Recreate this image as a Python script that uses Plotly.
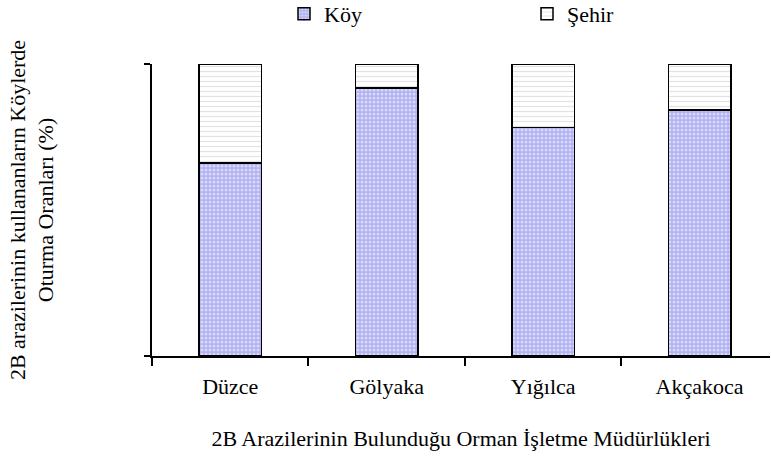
import plotly.graph_objects as go

categories = ["Düzce", "Gölyaka", "Yığılca", "Akçakoca"]
koy = [66.1, 91.8, 78.2, 84.2]
sehir = [33.9, 8.2, 21.8, 15.8]
boundaries = [-0.5, 0.5, 1.5, 2.5]
y_ticks = [0, 100]

x_pos = list(range(len(categories)))
serif = "Liberation Serif"

fig = go.Figure()

fig.add_trace(go.Bar(
    x=x_pos, y=koy, name="Köy", width=0.4,
    marker=dict(
        color="#B0B0F2",
        line=dict(color="black", width=1.5),
        pattern=dict(shape=".", fgcolor="white", bgcolor="#B0B0F2", size=4, solidity=0.45),
    ),
))

fig.add_trace(go.Bar(
    x=x_pos, y=sehir, name="Şehir", width=0.4,
    marker=dict(
        color="white",
        line=dict(color="black", width=1.5),
        pattern=dict(shape="-", fgcolor="#C8C8C8", bgcolor="white", size=5, solidity=0.25),
    ),
))

fig.update_layout(
    barmode="stack",
    width=771, height=457,
    paper_bgcolor="white", plot_bgcolor="white",
    margin=dict(l=152, r=1, t=64, b=101, autoexpand=False),
    font=dict(family=serif, size=22, color="black"),
    legend=dict(
        orientation="h", x=0.2136, y=1.171, yanchor="middle", xanchor="left",
        entrywidth=198, entrywidthmode="pixels",
        font=dict(family=serif, size=22),
        traceorder="normal",
    ),
    xaxis=dict(
        range=[-0.5, 3.45],
        tickvals=x_pos, ticktext=categories, ticks="", ticklen=0,
        ticklabelstandoff=10,
        showline=True, linecolor="black", linewidth=2,
        showgrid=False, zeroline=False,
        minor=dict(tickvals=boundaries, ticks="outside", ticklen=8, tickcolor="black", tickwidth=2),
        title=dict(text="2B Arazilerinin Bulunduğu Orman İşletme Müdürlükleri",
                   font=dict(family=serif, size=22), standoff=32),
        tickfont=dict(family=serif, size=22),
    ),
    yaxis=dict(
        range=[0, 100],
        tickvals=y_ticks, showticklabels=False,
        ticks="outside", ticklen=6, tickwidth=2, tickcolor="black",
        showline=True, linecolor="black", linewidth=2,
        showgrid=False, zeroline=False,
        title=dict(text="2B arazilerinin kullananların Köylerde<br>Oturma Oranları (%)",
                   font=dict(family=serif, size=22), standoff=84),
    ),
)

# page body has a default margin; drop it so the figure sits at the window corner
fig.write_html("out.html", config={"displayModeBar": False},
               post_script="document.body.style.margin='0';")
